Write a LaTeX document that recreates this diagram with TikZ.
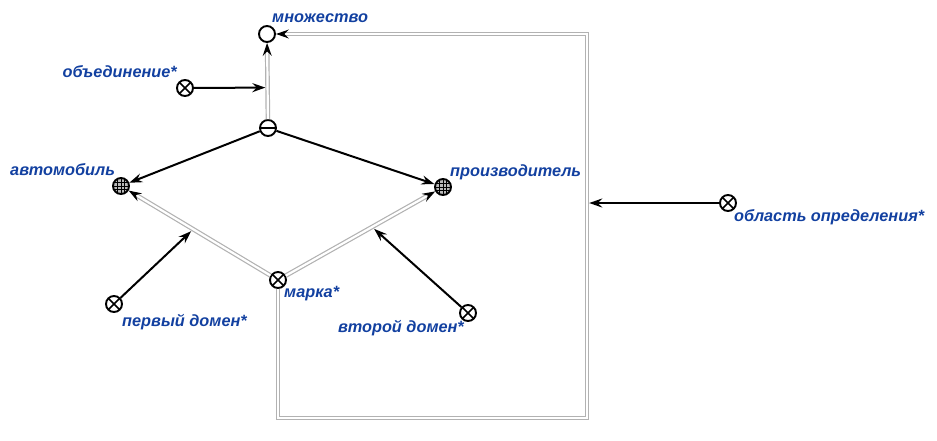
\documentclass[tikz,border=0pt]{standalone}
\usepackage{fontspec}
\setmainfont{Liberation Sans}
\usetikzlibrary{arrows.meta,calc}
\definecolor{lblue}{RGB}{18,64,160}
\tikzset{
  x=1pt,y=-1pt,
  base/.style={circle,draw,line width=1.9pt,minimum size=16pt,inner sep=0pt},
  plainnode/.style={base},
  xnode/.style={base,path picture={\draw[line width=1.6pt]
     (path picture bounding box.north west) -- (path picture bounding box.south east)
     (path picture bounding box.north east) -- (path picture bounding box.south west);}},
  minusnode/.style={base,path picture={\draw[line width=1.6pt]
     (path picture bounding box.west) -- (path picture bounding box.east);}},
  gridnode/.style={base,fill=gray!55,path picture={\draw[line width=0.8pt]
     ([xshift=-3.8pt]path picture bounding box.north) -- ([xshift=-3.8pt]path picture bounding box.south)
     (path picture bounding box.north) -- (path picture bounding box.south)
     ([xshift=3.8pt]path picture bounding box.north) -- ([xshift=3.8pt]path picture bounding box.south)
     ([yshift=-3.8pt]path picture bounding box.west) -- ([yshift=-3.8pt]path picture bounding box.east)
     (path picture bounding box.west) -- (path picture bounding box.east)
     ([yshift=3.8pt]path picture bounding box.west) -- ([yshift=3.8pt]path picture bounding box.east);}},
  lbl/.style={text=lblue,font=\fontsize{16.3}{19}\selectfont\bfseries\itshape,inner sep=0pt,anchor=west},
  tip/.style={-{Stealth[length=13pt,width=9pt,inset=4.5pt,black]}},
  arr/.style={tip,draw=black,line width=2pt},
  dbl/.style={draw=gray!60,double=white,double distance=2.2pt,line width=1.2pt},
  dblarr/.style={dbl,tip},
}
\begin{document}
\begin{tikzpicture}
\useasboundingbox (0,0) rectangle (937,440);
% nodes
\node[plainnode] (mn) at (267,34) {};
\node[xnode] (ob) at (185,88) {};
\node[minusnode] (mi) at (268,128) {};
\node[gridnode] (avto) at (121,186) {};
\node[gridnode] (proiz) at (443,187) {};
\node[xnode] (marka) at (278,280) {};
\node[xnode] (d1) at (114,304) {};
\node[xnode] (d2) at (468,313) {};
\node[xnode] (obl) at (728,203) {};
% labels
\node[lbl] (tmn) at (272,18) {множество};
\node[lbl,anchor=east] (tob) at (177,72) {объединение*};
\node[lbl] (tavto) at (10,170) {автомобиль};
\node[lbl] (tproiz) at (450,172) {производитель};
\node[lbl] (tmarka) at (284,294) {марка*};
\node[lbl] (td1) at (122,322) {первый домен*};
\node[lbl] (td2) at (338,328) {второй домен*};
\node[lbl] (tobl) at (734,217) {область определения*};
% loop corners
\coordinate (c1) at (278,418);
\coordinate (c2) at (587,418);
\coordinate (c3) at (587,34);
% double arcs
\draw[dblarr] (mi) -- (mn);
\draw[dblarr] (marka) -- (avto);
\draw[dblarr] (marka) -- (proiz);
\draw[dblarr] (marka) -- (c1) -- (c2) -- (c3) -- (mn);
% attachment points
\coordinate (j0) at ($(mi)!0.43!(mn)$);
\coordinate (j1) at ($(marka)!0.54!(avto)$);
\coordinate (j2) at ($(marka)!0.57!(proiz)$);
\coordinate (j3) at (c3 |- obl);
% single arcs
\draw[arr] (mi) -- (avto);
\draw[arr] (mi) -- (proiz);
\draw[arr,shorten >=2.2pt] (ob) -- (j0);
\draw[arr,shorten >=2.8pt] (d1) -- (j1);
\draw[arr,shorten >=2.8pt] (d2) -- (j2);
\draw[arr,shorten >=2.2pt] (obl) -- (j3);
\end{tikzpicture}
\end{document}
